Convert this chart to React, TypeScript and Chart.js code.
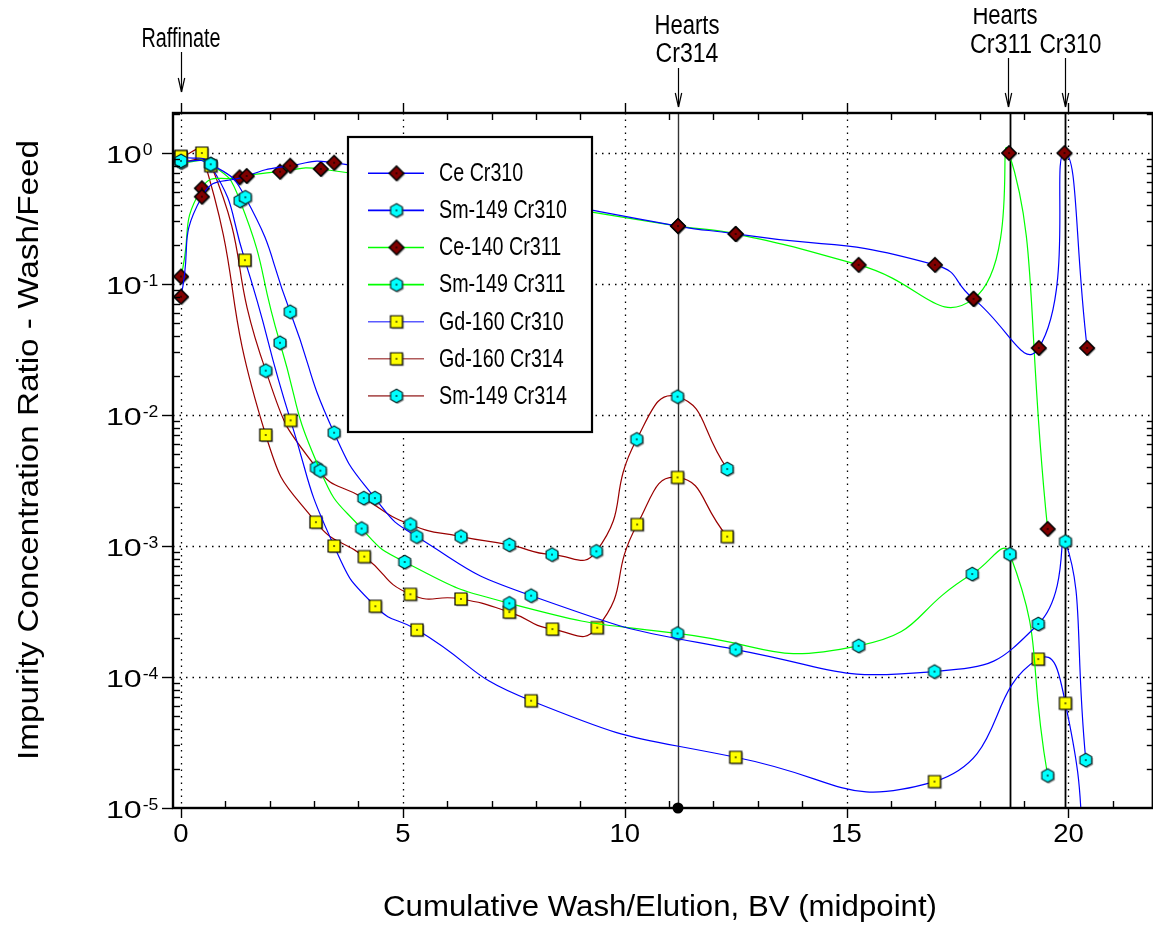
import React, { useEffect, useRef } from 'react';
import { Chart, registerables } from 'chart.js';

Chart.register(...registerables);

// ---------------- data ----------------
const ceCr310X = [0, 0.47, 1.48, 2.46, 3.45, 11.2, 12.5, 16.99, 17.86, 19.33, 19.91, 20.42];
const ceCr310Y = [0.08, 0.464, 0.668, 0.8, 0.843, 0.277, 0.241, 0.14, 0.077, 0.0325, 1.0, 0.0325];

const smCr310X = [0, 0.67, 1.45, 2.46, 3.45, 4.37, 5.31, 7.89, 12.5, 16.98, 19.32, 19.93, 20.39];
const smCr310Y = [0.87, 0.82, 0.459, 0.0614, 0.00732, 0.00232, 0.00118, 0.000418, 0.000162, 0.00011, 0.000254, 0.00108, 0.0000232];

const ceCr311X = [0, 0.47, 1.32, 2.23, 3.15, 11.2, 12.5, 15.27, 17.86, 18.66, 19.53];
const ceCr311Y = [0.114, 0.538, 0.652, 0.72, 0.755, 0.277, 0.241, 0.14, 0.077, 1.0, 0.00135];

const smCr311X = [0, 0.67, 1.33, 2.23, 3.14, 4.07, 5.04, 7.4, 11.19, 15.27, 17.83, 18.68, 19.53];
const smCr311Y = [0.85, 0.82, 0.432, 0.0356, 0.00376, 0.00136, 0.000755, 0.000365, 0.000215, 0.000173, 0.000611, 0.000865, 0.0000177];

const gdCr310X = [0, 0.67, 1.44, 2.47, 3.45, 4.38, 5.32, 7.89, 12.5, 16.98, 19.32, 19.93, 20.45];
const gdCr310Y = [0.94, 0.8, 0.152, 0.0091, 0.001, 0.000347, 0.000229, 0.0000659, 0.0000244, 0.0000159, 0.000137, 0.000063, 0.000002];

const gdCr314X = [0, 0.47, 1.91, 3.04, 4.13, 5.17, 6.31, 7.4, 8.37, 9.38, 10.28, 11.19, 12.31];
const gdCr314Y = [0.94, 1.0, 0.00704, 0.00152, 0.00083, 0.000428, 0.000394, 0.000313, 0.000232, 0.000238, 0.00146, 0.00334, 0.00118];

const smCr314X = [0, 0.67, 1.91, 3.05, 4.12, 5.17, 6.31, 7.4, 8.36, 9.36, 10.27, 11.19, 12.31];
const smCr314Y = [0.86, 0.82, 0.0218, 0.00396, 0.00232, 0.00146, 0.00118, 0.00102, 0.00086, 0.00091, 0.00652, 0.0138, 0.00387];

const seriesLabels = ['Ce Cr310', 'Sm-149 Cr310', 'Ce-140 Cr311', 'Sm-149 Cr311', 'Gd-160 Cr310', 'Gd-160 Cr314', 'Sm-149 Cr314'];

const xTickValues = [0, 5, 10, 15, 20];
const xTickLabels = ['0', '5', '10', '15', '20'];
const yTickExponents = [0, -1, -2, -3, -4, -5];
const yTickLabels = ['0', '-1', '-2', '-3', '-4', '-5'];

const heartsLineX = [11.2, 18.68, 19.93];
const raffinateX = 0;
const heartsCr314X = 11.2;
const heartsCr311X = 18.68;
const heartsCr310X = 19.93;

const xTitle = 'Cumulative Wash/Elution, BV (midpoint)';
const yTitle = 'Impurity Concentration Ratio - Wash/Feed';

// ---------------- styles ----------------
const FONT = "'Liberation Sans', Arial, Helvetica, sans-serif";
const BLUE = '#0000ff';
const GREEN = '#00ff00';
const BROWN = '#990000';

function makeMarker(kind: string): HTMLCanvasElement {
  const c = document.createElement('canvas');
  c.width = 20;
  c.height = 20;
  const g = c.getContext('2d')!;
  const m = 10;
  const path = (dx: number, dy: number) => {
    g.beginPath();
    if (kind === 'diamond') {
      const r = 7.2;
      g.moveTo(m + dx, m - r + dy);
      g.lineTo(m + r + dx, m + dy);
      g.lineTo(m + dx, m + r + dy);
      g.lineTo(m - r + dx, m + dy);
    } else if (kind === 'hex') {
      const r = 6.8;
      for (let k = 0; k < 6; k++) {
        const ang = Math.PI / 2 + (k * Math.PI) / 3;
        const px = m + dx + r * Math.cos(ang);
        const py = m + dy - r * Math.sin(ang);
        if (k === 0) g.moveTo(px, py);
        else g.lineTo(px, py);
      }
    } else {
      const h = 6;
      g.rect(m - h + dx, m - h + dy, 2 * h, 2 * h);
    }
    g.closePath();
  };
  path(1.3, 1.3);
  g.fillStyle = 'rgba(70,70,70,0.55)';
  g.fill();
  path(0, 0);
  g.fillStyle = kind === 'diamond' ? '#800000' : kind === 'hex' ? '#00ffff' : '#ffff00';
  g.fill();
  g.lineWidth = kind === 'diamond' ? 1.6 : 1.2;
  g.strokeStyle = kind === 'hex' ? '#0a2a2a' : '#000';
  g.stroke();
  g.fillStyle = '#000';
  g.fillRect(m - 0.75, m - 0.75, 1.5, 1.5);
  return c;
}

function drawScaled(
  ctx: CanvasRenderingContext2D,
  text: string,
  x: number,
  y: number,
  size: number,
  sx: number,
  align: 'left' | 'center' | 'right',
  baseline: CanvasTextBaseline = 'middle',
  rot = 0
) {
  ctx.save();
  ctx.font = `${size}px ${FONT}`;
  ctx.textBaseline = baseline;
  ctx.textAlign = 'left';
  ctx.fillStyle = '#000';
  const w = ctx.measureText(text).width * sx;
  ctx.translate(x, y);
  if (rot) ctx.rotate(rot);
  const x0 = align === 'center' ? -w / 2 : align === 'right' ? -w : 0;
  ctx.translate(x0, 0);
  ctx.scale(sx, 1);
  ctx.fillText(text, 0, 0);
  ctx.restore();
  return w;
}

function fitScale(ctx: CanvasRenderingContext2D, text: string, size: number, target: number) {
  ctx.save();
  ctx.font = `${size}px ${FONT}`;
  const w = ctx.measureText(text).width;
  ctx.restore();
  return target / w;
}

function drawFit(ctx: CanvasRenderingContext2D, text: string, x: number, y: number, size: number, width: number) {
  drawScaled(ctx, text, x, y, size, fitScale(ctx, text, size, width), 'center', 'middle');
}

function seg(ctx: CanvasRenderingContext2D, x1: number, y1: number, x2: number, y2: number) {
  ctx.beginPath();
  ctx.moveTo(x1, y1);
  ctx.lineTo(x2, y2);
  ctx.stroke();
}

function arrow(ctx: CanvasRenderingContext2D, x: number, y1: number, y2: number) {
  ctx.save();
  ctx.strokeStyle = '#000';
  ctx.lineWidth = 1.2;
  seg(ctx, x, y1, x, y2);
  seg(ctx, x, y2, x - 3.2, y2 - 14);
  seg(ctx, x, y2, x + 3.2, y2 - 14);
  ctx.restore();
}

export default function App() {
  const ref = useRef<HTMLCanvasElement>(null);

  useEffect(() => {
    const diamond = makeMarker('diamond');
    const hex = makeMarker('hex');
    const square = makeMarker('square');
    const markers = [diamond, hex, diamond, hex, square, square, hex];
    const colors = [BLUE, BLUE, GREEN, GREEN, BLUE, BROWN, BROWN];
    const legendColors = [BLUE, BLUE, GREEN, GREEN, '#5a5aff', '#b05a5a', '#b05a5a'];
    const xsArr = [ceCr310X, smCr310X, ceCr311X, smCr311X, gdCr310X, gdCr314X, smCr314X];
    const ysArr = [ceCr310Y, smCr310Y, ceCr311Y, smCr311Y, gdCr310Y, gdCr314Y, smCr314Y];

    const datasets = seriesLabels.map((label, i) => ({
      label,
      data: xsArr[i].map((x, k) => ({ x, y: ysArr[i][k] })),
      borderColor: colors[i],
      backgroundColor: colors[i],
      borderWidth: 1.2,
      tension: 0.55,
      pointStyle: markers[i] as any,
      pointRadius: 7,
      pointHoverRadius: 7,
      fill: false,
      clip: { left: 20, top: 20, right: 20, bottom: 0 } as any,
    }));

    const overlay = {
      id: 'overlay',
      beforeDatasetsDraw(chart: any) {
        const { ctx, chartArea: a, scales } = chart;
        const xs = scales.x;
        const ys = scales.y;
        ctx.save();
        ctx.strokeStyle = '#000';
        ctx.lineWidth = 1.3;
        ctx.setLineDash([1.5, 5]);
        for (const v of xTickValues) {
          const p = Math.round(xs.getPixelForValue(v)) + 0.5;
          seg(ctx, p, a.top, p, a.bottom);
        }
        for (const e of yTickExponents) {
          if (e === -5) continue;
          const p = Math.round(ys.getPixelForValue(Math.pow(10, e))) + 0.5;
          seg(ctx, a.left, p, a.right, p);
        }
        ctx.setLineDash([]);
        heartsLineX.forEach((v, i) => {
          const p = Math.round(xs.getPixelForValue(v)) + 0.5;
          ctx.strokeStyle = i === 0 ? '#333' : '#000';
          ctx.lineWidth = i === 0 ? 1.4 : 1.8;
          seg(ctx, p, a.top, p, a.bottom);
        });
        ctx.restore();
      },
      afterDatasetsDraw(chart: any) {
        const { ctx, chartArea: a, scales } = chart;
        const xs = scales.x;
        const ys = scales.y;
        ctx.save();
        ctx.fillStyle = '#000';
        ctx.beginPath();
        ctx.arc(xs.getPixelForValue(heartsCr314X), a.bottom, 5.5, 0, Math.PI * 2);
        ctx.fill();

        // frame
        ctx.strokeStyle = '#000';
        ctx.lineWidth = 2.4;
        ctx.strokeRect(a.left, a.top, a.right - a.left, a.bottom - a.top);

        // x ticks
        ctx.lineWidth = 1.4;
        const xmin = Math.ceil(xs.min);
        const xmax = Math.floor(xs.max);
        for (let v = xmin; v <= xmax; v++) {
          const p = Math.round(xs.getPixelForValue(v)) + 0.5;
          if (v % 5 === 0) {
            seg(ctx, p, a.bottom, p, a.bottom + 10);
            seg(ctx, p, a.top, p, a.top - 10);
          } else {
            seg(ctx, p, a.bottom, p, a.bottom - 7);
            seg(ctx, p, a.top, p, a.top + 7);
          }
        }
        // y ticks
        for (const e of yTickExponents) {
          const p = Math.round(ys.getPixelForValue(Math.pow(10, e))) + 0.5;
          seg(ctx, a.left - 11, p, a.left, p);
        }
        for (let e = -5; e <= 0; e++) {
          for (let m = 2; m <= 9; m++) {
            const v = m * Math.pow(10, e);
            if (v > ys.max) continue;
            const p = Math.round(ys.getPixelForValue(v)) + 0.5;
            seg(ctx, a.left, p, a.left + 7, p);
            seg(ctx, a.right - 6, p, a.right, p);
          }
        }

        // y tick labels
        yTickExponents.forEach((e, i) => {
          const p = ys.getPixelForValue(Math.pow(10, e));
          drawScaled(ctx, '10', 141.7, p + 10.3, 23, 1.4, 'right', 'alphabetic');
          drawScaled(ctx, yTickLabels[i], 142.7, p + 2, 16, 1.1, 'left', 'alphabetic');
        });
        // x tick labels
        xTickValues.forEach((v, i) => {
          drawScaled(ctx, xTickLabels[i], xs.getPixelForValue(v), 835, 25, 1.1, 'center', 'middle');
        });

        // axis titles
        const sxX = fitScale(ctx, xTitle, 30, 554);
        drawScaled(ctx, xTitle, 660, 908, 30, sxX, 'center', 'middle');
        const sxY = fitScale(ctx, yTitle, 30, 620);
        drawScaled(ctx, yTitle, 30, 450, 30, sxY, 'center', 'middle', -Math.PI / 2);

        // legend
        const lx = 348, ly = 137, lw = 244, lh = 295;
        ctx.fillStyle = '#fff';
        ctx.fillRect(lx, ly, lw, lh);
        ctx.strokeStyle = '#000';
        ctx.lineWidth = 2.2;
        ctx.strokeRect(lx, ly, lw, lh);
        const sxL = fitScale(ctx, 'Sm-149 Cr310', 25, 128);
        seriesLabels.forEach((label, i) => {
          const ry = 173.3 + 37.1 * i;
          ctx.strokeStyle = legendColors[i];
          ctx.lineWidth = 1.6;
          seg(ctx, 368, ry, 424, ry);
          const mk = markers[i];
          ctx.drawImage(mk, 396.5 - mk.width / 2, ry - mk.height / 2);
          drawScaled(ctx, label, 439, ry + 1, 25, sxL, 'left', 'middle');
        });

        // top annotations
        const pR = xs.getPixelForValue(raffinateX);
        drawFit(ctx, 'Raffinate', pR, 40, 27, 79);
        arrow(ctx, Math.round(pR) + 0.5, 52, 92);

        const p314 = xs.getPixelForValue(heartsCr314X);
        drawFit(ctx, 'Hearts', p314 + 9, 27, 27, 65);
        drawFit(ctx, 'Cr314', p314 + 9, 55, 27, 63);
        arrow(ctx, Math.round(p314) + 0.5, 68, 107);

        const p311 = xs.getPixelForValue(heartsCr311X);
        const p310 = xs.getPixelForValue(heartsCr310X);
        drawFit(ctx, 'Hearts', p311 - 5, 17, 27, 65);
        drawFit(ctx, 'Cr311', p311 - 9, 46, 27, 62);
        drawFit(ctx, 'Cr310', p310 + 5, 46, 27, 62);
        arrow(ctx, Math.round(p311) - 1.5, 58, 107);
        arrow(ctx, Math.round(p310) + 0.5, 58, 107);
        ctx.restore();
      },
    };

    const chart = new Chart(ref.current!, {
      type: 'line',
      data: { datasets: datasets as any },
      options: {
        animation: false,
        responsive: false,
        events: [],
        layout: { padding: { left: 173, top: 113, right: 1, bottom: 122 } },
        scales: {
          x: { type: 'linear', min: -0.18, max: 21.9, display: false },
          y: { type: 'logarithmic', min: 1e-5, max: 2.02, display: false },
        },
        plugins: {
          legend: { display: false },
          tooltip: { enabled: false },
        },
      },
      plugins: [overlay as any],
    });
    return () => chart.destroy();
  }, []);

  return (
    <div style={{ width: 1161, height: 930, margin: -8 }}>
      <canvas ref={ref} width={1161} height={930} style={{ display: 'block' }} />
    </div>
  );
}
